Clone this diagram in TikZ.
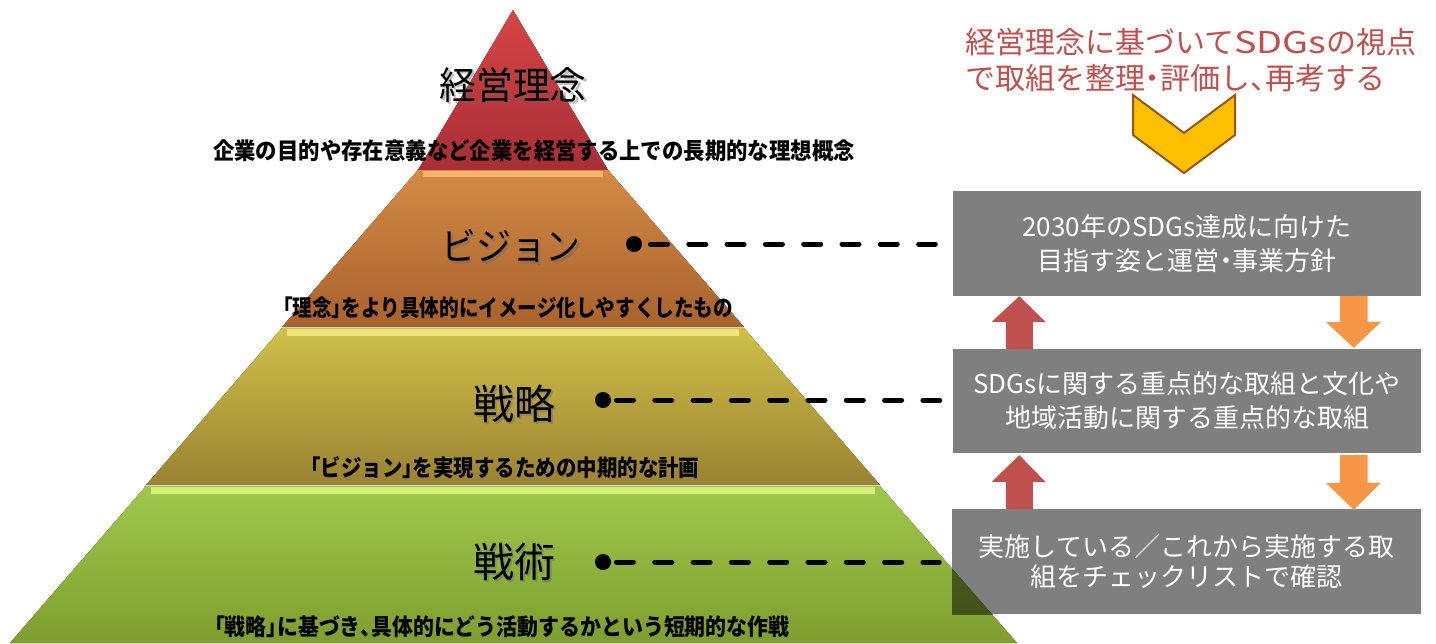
\documentclass[tikz,border=0pt]{standalone}
\usepackage{fontspec}
\usetikzlibrary{calc}
\newfontfamily\jp{Noto Sans CJK JP}
\newcommand{\lb}{\makebox[0.5em][r]{「}}
\newcommand{\rb}{\makebox[0.5em][l]{」}}
\newcommand{\tn}{\makebox[0.5em][l]{、}}
\newcommand{\nk}{\makebox[0.5em][c]{・}}
\definecolor{redT}{HTML}{D64545}
\definecolor{redB}{HTML}{A82E36}
\definecolor{orT}{HTML}{D38A45}
\definecolor{orB}{HTML}{A8622C}
\definecolor{yeT}{HTML}{CFC048}
\definecolor{yeB}{HTML}{9A8232}
\definecolor{grT}{HTML}{A0C84C}
\definecolor{grB}{HTML}{7E9E2E}
\definecolor{grTd}{HTML}{506426}
\definecolor{grBd}{HTML}{3F4F17}
\definecolor{bandO}{HTML}{F4B46C}
\definecolor{bandY}{HTML}{F0E47E}
\definecolor{bandG}{HTML}{D2F078}
\definecolor{headred}{HTML}{C0504D}
\definecolor{boxgray}{HTML}{7F7F7F}
\definecolor{arrred}{HTML}{C0504D}
\definecolor{arror}{HTML}{F79646}
\definecolor{chevfill}{HTML}{FFC000}
\definecolor{chevline}{HTML}{9A5516}
\begin{document}
\begin{tikzpicture}[x=1pt,y=-1pt,
  ttl/.style={inner sep=0pt, font=\jp\fontsize{38}{38}\selectfont},
  ttlB/.style={inner sep=0pt, font=\jp\fontsize{41}{41}\selectfont},
  desc/.style={inner sep=0pt, font=\jp\bfseries\fontsize{23}{23}\selectfont},
  head/.style={inner sep=0pt, anchor=west, text=headred, font=\jp\fontsize{30}{30}\selectfont},
  dot/.style={circle, fill=black, inner sep=0pt, minimum size=16pt},
  dl/.style={line width=5pt, line cap=round, dash pattern=on 17pt off 21.3pt},
  box/.style={fill=boxgray, text=white, minimum width=468pt, minimum height=105pt, inner sep=0pt, align=center, font=\jp\fontsize{26}{34}\selectfont},
  shd/.style={text=black!60, opacity=0.4},
]
\useasboundingbox (0,0) rectangle (1436,643);
\fill[white] (0,0) rectangle (1436,643);

% pyramid tiers
\fill[top color=redT, bottom color=redB] (513,10) -- (608,170) -- (418,170) -- cycle;
\fill[top color=orT, bottom color=orB] (418,170) -- (608,170) -- (744,327) -- (282,327) -- cycle;
\fill[top color=yeT, bottom color=yeB] (282,328) -- (744,328) -- (880,485) -- (146,485) -- cycle;
\fill[top color=grT, bottom color=grB] (146,486) -- (880,486) -- (1017,643) -- (10,643) -- cycle;
\fill[bandO] (423,171) rectangle (603,177);
\fill[bandY] (287,329) rectangle (739,336);
\fill[bandG] (151,487) rectangle (875,494);

% tier titles
\node[ttl, shd] (t1s) at (515.5,87.5) {\scalebox{0.97}[1]{経営理念}};
\node[ttl] (t1) at (513,85) {\scalebox{0.97}[1]{経営理念}};
\node[ttl, shd] (t2s) at (513.5,248.5) {\scalebox{0.92}[1]{ビジョン}};
\node[ttl] (t2) at (511,246) {\scalebox{0.92}[1]{ビジョン}};
\node[ttlB, shd] (t3s) at (516.5,406) {戦略};
\node[ttlB] (t3) at (514,403.5) {戦略};
\node[ttlB, shd] (t4s) at (516.5,564) {戦術};
\node[ttlB] (t4) at (514,561.5) {戦術};

% descriptions
\node[desc] (s1) at (534,151) {\scalebox{0.93}[1]{企業の目的や存在意義など企業を経営する上での長期的な理想概念}};
\node[desc] (s2) at (508,308) {\scalebox{0.853}[1]{\lb 理念\rb をより具体的にイメージ化しやすくしたもの}};
\node[desc] (s3) at (505,468) {\scalebox{0.89}[1]{\lb ビジョン\rb を実現するための中期的な計画}};
\node[desc] (s4) at (502,627) {\scalebox{0.909}[1]{\lb 戦略\rb に基づき\tn 具体的にどう活動するかという短期的な作戦}};

% heading
\node[head] (h1) at (965,42) {経営理念に基づいて\scalebox{1.26}[1]{SDGs}の視点};
\node[head] (h2) at (965,78) {で取組を整理\makebox[15pt]{・}評価し\makebox[15pt][l]{、}再考する};

% chevron
\filldraw[fill=chevfill, draw=chevline, line width=2pt, line join=miter]
  (1133,95) -- (1184,133) -- (1235,95) -- (1235,135) -- (1184,173) -- (1133,135) -- cycle;

% boxes
\node[box] (b1) at (1187,243.5) {2030年のSDGs達成に向けた\\目指す姿と運営\nk 事業方針};
\node[box, minimum height=104pt] (b2) at (1187,401) {SDGsに関する重点的な取組と文化や\\地域活動に関する重点的な取組};
\fill[boxgray] (952,509) rectangle (1421,614);
\begin{scope}
  \clip (952,509) rectangle (1421,614);
  \fill[top color=grTd, bottom color=grBd] (146,486) -- (880,486) -- (1017,643) -- (10,643) -- cycle;
\end{scope}
\node[box, fill=none, minimum width=469pt, font=\jp\fontsize{26}{30}\selectfont] (b3) at (1186.5,561.5) {実施している／これから実施する取\\組をチェックリストで確認};

% dots and dashed connectors
\node[dot] (d1) at (634,244) {};
\node[dot] (d2) at (603,400) {};
\node[dot] (d3) at (603,562) {};
\draw[dl, shorten <=16.5pt, shorten >=17.5pt] (d1.center) -- (d1.center -| b1.west);
\draw[dl, shorten <=13.5pt, shorten >=13pt] (d2.center) -- (d2.center -| b2.west);
\draw[dl, shorten <=13.5pt, shorten >=12.5pt] (d3.center) -- (d3.center -| b3.west);

% block arrows
\fill[arrred] ($(b2.north west)+(53,0)$) -- ++(0,-27) -- ++(-14,0) -- ($(b1.south west)+(66.5,0)$) -- ++(26.5,26) -- ++(-13,0) -- ++(0,27) -- cycle;
\fill[arrred] ($(b3.north west)+(54,0)$) -- ++(0,-27) -- ++(-14,0) -- ($(b2.south west)+(66.5,2)$) -- ++(26.5,27) -- ++(-13,0) -- ++(0,27) -- cycle;
\fill[arror] ($(b1.south east)+(-81,0)$) -- ++(0,26) -- ++(-14,0) -- ($(b2.north east)+(-67.5,-1)$) -- ++(27.5,-26) -- ++(-13.5,0) -- ++(0,-26) -- cycle;
\fill[arror] ($(b2.south east)+(-81,2)$) -- ++(0,28) -- ++(-14,0) -- ($(b3.north east)+(-67.5,1)$) -- ++(27,-27) -- ++(-13,0) -- ++(0,-28) -- cycle;
\end{tikzpicture}
\end{document}
